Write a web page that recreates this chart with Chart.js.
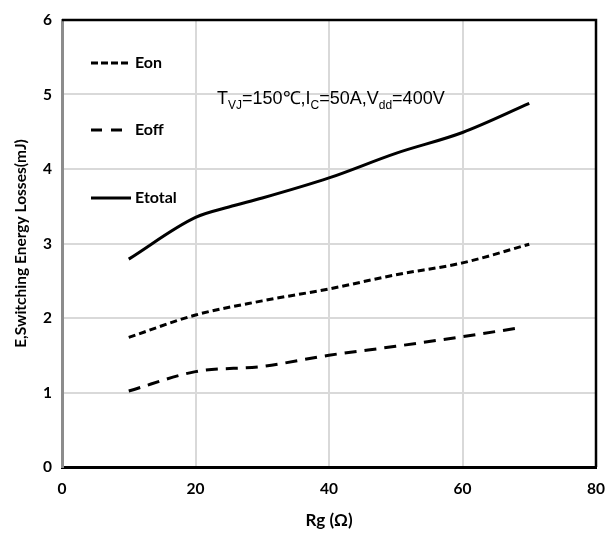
<!DOCTYPE html>
<html>
<head>
<meta charset="utf-8">
<script src="https://cdn.jsdelivr.net/npm/chart.js@4/dist/chart.umd.min.js"></script>
<style>
html,body{margin:0;padding:0;background:#fff;}
#wrap{width:609px;height:536px;position:relative;}
</style>
</head>
<body>
<div id="wrap"><canvas id="c" width="609" height="536"></canvas></div>
<script>
// ---- data ----
const xTicks = [0, 20, 40, 60, 80];
const yTicks = [0, 1, 2, 3, 4, 5, 6];
const seriesNames = ["Eon", "Eoff", "Etotal"];
const eonRg = [10, 20, 30, 40, 50, 60, 70];
const eonVal = [1.74, 2.04, 2.23, 2.39, 2.58, 2.74, 2.99];
const eoffRg = [10, 20, 30, 40, 50, 60, 68];
const eoffVal = [1.02, 1.28, 1.35, 1.50, 1.62, 1.75, 1.86];
const etotalRg = [10, 20, 25, 30, 40, 50, 60, 70];
const etotalVal = [2.79, 3.35, 3.49, 3.61, 3.88, 4.21, 4.49, 4.88];
const xTitle = "Rg (Ω)";
const yTitle = "E,Switching Energy Losses(mJ)";
const annotationParts = [["T",0],["VJ",1],["=150℃,I",0],["C",1],["=50A,V",0],["dd",1],["=400V",0]];

const pts = (xs, ys) => xs.map((x, i) => ({x: x, y: ys[i]}));
const FONT = "Lato, 'Open Sans', sans-serif";

const framePlugin = {
  id: 'frame',
  afterDatasetsDraw(chart) {
    const {ctx, chartArea: a} = chart;
    ctx.save();
    ctx.strokeStyle = '#000';
    ctx.lineWidth = 2.5;
    ctx.beginPath();
    ctx.moveTo(a.left, a.top);
    ctx.lineTo(a.right, a.top);
    ctx.lineTo(a.right, a.bottom);
    ctx.stroke();
    ctx.restore();
  },
  afterDraw(chart) {
    const {ctx} = chart;
    const a = chart.chartArea;
    const rows = [63, 130, 198];
    ctx.save();
    chart.data.datasets.forEach((ds, i) => {
      const y = rows[i];
      ctx.strokeStyle = '#000';
      ctx.lineWidth = 3;
      ctx.setLineDash(ds.legendDash || []);
      ctx.beginPath();
      ctx.moveTo(a.left + 29, y);
      ctx.lineTo(a.left + (i === 1 ? 61 : 69), y);
      ctx.stroke();
      ctx.setLineDash([]);
      ctx.fillStyle = '#000';
      ctx.font = "bold 16px " + FONT;
      ctx.textBaseline = 'middle';
      ctx.textAlign = 'left';
      ctx.fillText(ds.label, a.left + 73, y);
    });
    let x = 217;
    const base = 104;
    annotationParts.forEach(([t, sub]) => {
      ctx.font = (sub ? "12px " : "18px ") + "'Liberation Sans', Arial, sans-serif";
      ctx.textBaseline = 'alphabetic';
      ctx.fillText(t, x, sub ? base + 5 : base);
      x += ctx.measureText(t).width;
    });
    ctx.restore();
  }
};

new Chart(document.getElementById('c'), {
  type: 'line',
  data: {
    datasets: [
      {label: seriesNames[0], data: pts(eonRg, eonVal), borderDash: [7, 4], legendDash: [7, 3]},
      {label: seriesNames[1], data: pts(eoffRg, eoffVal), borderDash: [12, 8], legendDash: [11, 9]},
      {label: seriesNames[2], data: pts(etotalRg, etotalVal), borderDash: []}
    ].map(d => Object.assign({
      borderColor: '#000', borderWidth: 3, pointRadius: 0, fill: false,
      cubicInterpolationMode: 'monotone', borderCapStyle: 'butt'
    }, d))
  },
  options: {
    responsive: false,
    animation: false,
    layout: {padding: {left: 0, right: 13, top: 20, bottom: 0}},
    plugins: {legend: {display: false}, tooltip: {enabled: false}},
    scales: {
      x: {
        type: 'linear', min: 0, max: 80,
        afterBuildTicks: s => { s.ticks = xTicks.map(v => ({value: v})); },
        ticks: {padding: 1, color: '#000', font: {family: FONT, weight: 'bold', size: 15.5}},
        afterFit: s => { s.height = 69; },
        grid: {display: true, color: '#d9d9d9', lineWidth: 2, drawTicks: true, tickLength: 12, tickColor: 'rgba(0,0,0,0)'},
        border: {display: true, color: '#000', width: 3},
        title: {display: true, text: xTitle, color: '#000', padding: {top: 0, bottom: 5},
                font: {family: FONT, weight: 'bold', size: 17}}
      },
      y: {
        type: 'linear', min: 0, max: 6,
        afterBuildTicks: s => { s.ticks = yTicks.map(v => ({value: v})); },
        ticks: {padding: 10, color: '#000', font: {family: FONT, weight: 'bold', size: 15.5}},
        afterFit: s => { s.width = 62; },
        grid: {display: true, color: '#d9d9d9', lineWidth: 2, drawTicks: false},
        border: {display: true, color: '#8c8c8c', width: 3},
        title: {display: true, text: yTitle, color: '#000', padding: {top: 12, bottom: 0},
                font: {family: FONT, weight: 'bold', size: 15.5}}
      }
    }
  },
  plugins: [framePlugin]
});
</script>
</body>
</html>
